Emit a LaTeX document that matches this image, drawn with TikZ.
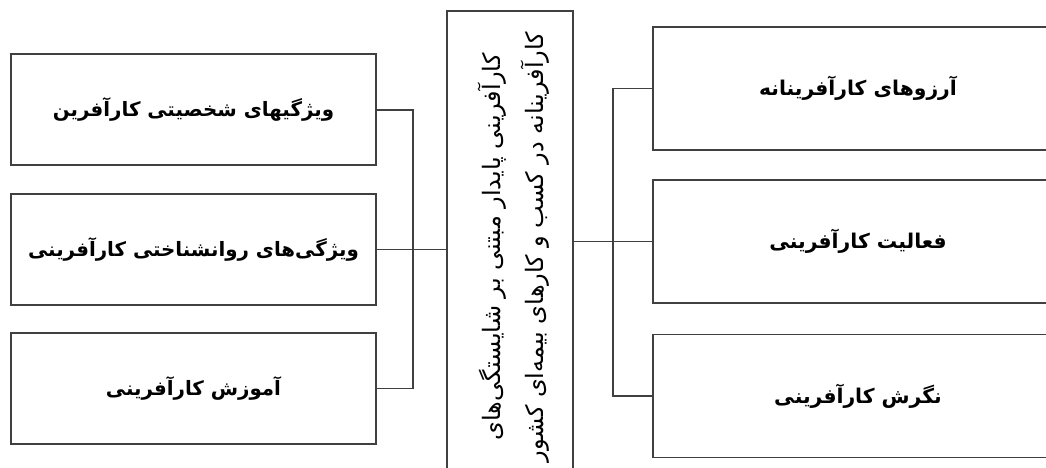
\documentclass[tikz,border=0pt]{standalone}
\usepackage{fontspec}
\TeXXeTstate=1
\newfontfamily\arabicfont[Script=Arabic]{DejaVu Sans}
\begin{document}
\begin{tikzpicture}[x=1pt,y=-1pt,
  line/.style={draw=black!75,line width=1.4pt},
  sidebox/.style={line,fill=white,inner sep=0pt,minimum width=365pt,minimum height=111pt,
     font=\arabicfont\bfseries\fontsize{19.8}{23}\selectfont},
  rightbox/.style={line,fill=white,inner sep=0pt,minimum width=410pt,minimum height=123pt,
     font=\arabicfont\bfseries\fontsize{20.3}{23}\selectfont},
  centerbox/.style={line,fill=white,inner sep=0pt,minimum width=126pt,minimum height=472pt},
  conn/.style={line}]
\clip (0,0) rectangle (1046,468);
\fill[white] (0,0) rectangle (1046,468);
% left boxes
\node[sidebox] (l1) at (193.5,109.5) {\beginR ویژگیهای شخصیتی کارآفرین\endR};
\node[sidebox] (l2) at (193.5,249.5) {\beginR ویژگی^^^^200cهای روانشناختی کارآفرینی\endR};
\node[sidebox] (l3) at (193.5,388.5) {\beginR آموزش کارآفرینی\endR};
% center box
\node[centerbox] (c) at (510,247) {};
\node[rotate=90,align=center,inner sep=0pt,font=\arabicfont\fontsize{24}{43}\selectfont] (ct) at (513.5,247)
  {\beginR کارآفرینی پایدار مبتنی بر شایستگی^^^^200cهای\endR\\
   \beginR کارآفرینانه در کسب و کارهای بیمه^^^^200cای کشور\endR};
% right boxes
\node[rightbox] (r1) at (858,88.5) {\beginR آرزوهای کارآفرینانه\endR};
\node[rightbox] (r2) at (858,241.5) {\beginR فعالیت کارآفرینی\endR};
\node[rightbox] (r3) at (858,396) {\beginR نگرش کارآفرینی\endR};
% left bracket
\coordinate (lb1) at (413,110);
\coordinate (lb3) at (413,388.5);
\draw[conn] (l1.east |- lb1) -- (lb1) -- (lb3) -- (l3.east |- lb3);
\draw[conn] (l2.east) -- (c.west |- l2.east);
% right bracket
\coordinate (rb1) at (613,88.5);
\coordinate (rb3) at (613,396);
\draw[conn] (c.east |- r2.west) -- (r2.west);
\draw[conn] (r1.west) -- (rb1) -- (rb3) -- (r3.west);
\end{tikzpicture}
\end{document}
